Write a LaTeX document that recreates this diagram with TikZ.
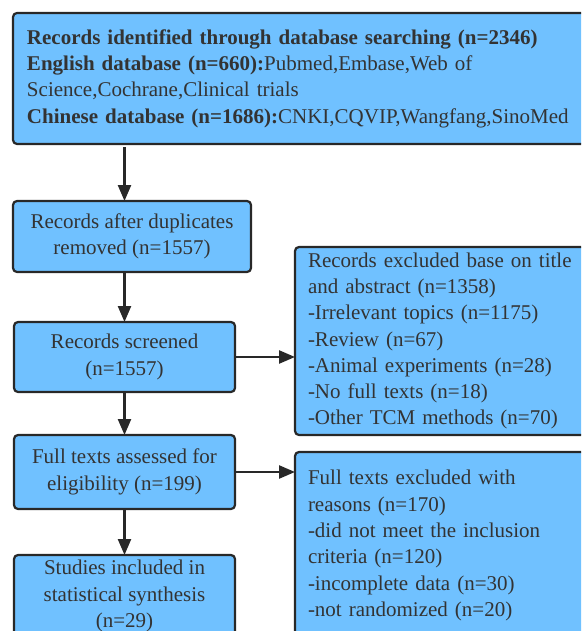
\documentclass[tikz,border=0pt]{standalone}
\usepackage{fontspec}
\setmainfont{Liberation Serif}
\usetikzlibrary{arrows.meta, positioning}
\definecolor{boxblue}{RGB}{112,193,255}
\definecolor{edgegray}{RGB}{40,40,40}
\definecolor{txtgray}{RGB}{51,51,51}

\begin{document}
\begin{tikzpicture}[x=1pt, y=-1pt]
	% Styles
	\tikzstyle{box} = [draw=edgegray, fill=boxblue, rectangle, line width=2.2pt, rounded corners=4pt, text=txtgray, font=\fontsize{21}{26.3}\selectfont, inner sep=0pt, outer sep=0pt]
	\tikzstyle{flow} = [box, align=center, minimum width=221pt]
	\tikzstyle{excl} = [box, align=left, anchor=north west, text width=272pt, inner xsep=13pt]
	\tikzstyle{arrow} = [line width=2.4pt, draw=edgegray, -{Triangle[length=16pt, width=13pt]}]

	\path [use as bounding box, clip] (0,0) rectangle (581,631);

	% Nodes
	\node (search) [box, anchor=north west, align=left, text width=572pt, inner xsep=14pt, minimum height=131pt] at (13,13) {\textbf{Records identified through database searching (n=2346)}\\ \textbf{English database (n=660):}Pubmed,Embase,Web of\\ Science,Cochrane,Clinical trials\\ \textbf{Chinese database (n=1686):}CNKI,CQVIP,Wangfang,SinoMed};
	\node (dup) [flow, minimum width=238pt, minimum height=71pt, below right=57pt and 0pt of search.south west] {Records after duplicates\\ removed (n=1557)};
	\node (scr) [flow, minimum height=70pt, below right=50pt and 1pt of dup.south west] {Records screened\\ (n=1557)};
	\node (full) [flow, minimum height=74pt, below right=43pt and 0pt of scr.south west] {Full texts assessed for\\ eligibility (n=199)};
	\node (incl) [flow, minimum height=82pt, below right=46pt and 0pt of full.south west] {Studies included in\\ statistical synthesis\\ (n=29)};
	\node (excltitle) [excl, minimum height=188pt] at (295,247) {Records excluded base on title\\ and abstract (n=1358)\\ -Irrelevant topics (n=1175)\\ -Review (n=67)\\ -Animal experiments (n=28)\\ -No full texts (n=18)\\ -Other TCM methods (n=70)};
	\node (exclfull) [excl, minimum height=187pt] at (295,452) {Full texts excluded with\\ reasons (n=170)\\ -did not meet the inclusion\\ criteria (n=120)\\ -incomplete data (n=30)\\ -not randomized (n=20)};

	% Connections
	\draw [arrow, shorten <=3pt] (search.south -| scr.north) -- (scr.north |- dup.north);
	\draw [arrow] (dup.south -| scr.north) -- (scr.north);
	\draw [arrow] (scr) -- (full);
	\draw [arrow] (full) -- (incl);
	\draw [arrow] (scr.east) -- (scr.east -| excltitle.west);
	\draw [arrow] (full.east) -- (full.east -| exclfull.west);

\end{tikzpicture}
\end{document}
